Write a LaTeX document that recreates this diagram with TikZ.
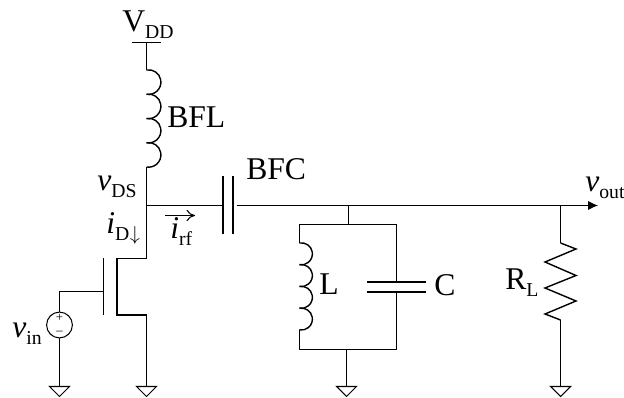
\documentclass[tikz,border=0pt]{standalone}
\usepackage{fontspec}
\setmainfont{Liberation Serif}
\usetikzlibrary{arrows.meta}
\newcommand{\lowtext}[1]{\raisebox{-0.19em}{\fontsize{14}{14}\selectfont #1}}
\tikzset{
	wire/.style={line width=0.75pt},
	plate/.style={line width=1.2pt},
	coil/.style={line width=1pt},
	fet/.style={line width=1.4pt},
	lbl/.style={anchor=base west,inner sep=0pt,font=\fontsize{22.5}{24}\selectfont},
}
\begin{document}
\begin{tikzpicture}[x=0.025cm,y=-0.025cm]
\useasboundingbox (0,0) rectangle (624,398);
% supply and choke
\coordinate (vdd) at (146.5,42.5);
\coordinate (bflt) at (146.5,70);
\coordinate (bflb) at (146.5,167);
\coordinate (dnode) at (146.5,205.5);
\coordinate (dfet) at (146.5,258.5);
\coordinate (sfet) at (146.5,315);
\draw[wire] ([xshift=-10]vdd) -- ([xshift=10]vdd);
\draw[wire] (vdd) -- (bflt);
\draw[wire] (bflb) -- (dfet);
\foreach \n in {0,1,2,3}{
	\draw[coil] (146.5,{70+\n*24.25}) arc[start angle=-100,end angle=100,radius=12.3];}
% transistor
\draw[fet] (dfet) -- (117,258.5) -- (117,315) -- (sfet);
\draw[plate] (103.5,258) -- (103.5,315);
\coordinate (gate) at (103.5,291.5);
\node[draw,circle,wire,minimum size=0.645cm,inner sep=0pt] (vsrc) at (59.5,325) {};
\node[inner sep=0pt,font=\fontsize{9}{9}\selectfont] (vplus) at (59.5,317.5) {+};
\node[inner sep=0pt,font=\fontsize{9}{9}\selectfont] (vminus) at (59.5,333) {--};
\draw[wire] (gate) -| (vsrc.north);
% grounds
\foreach \g/\x in {gndin/59.5,gndfet/146.5,gndtank/346.5,gndload/560.5}{
	\coordinate (\g) at (\x,386.5);
	\draw[wire] (\g) ++(-10,0) -- ++(20,0) -- ++(-10,10) -- cycle;}
\draw[wire] (vsrc.south) -- (gndin);
\draw[wire] (sfet) -- (gndfet);
% output line
\coordinate (cin) at (223,205.5);
\coordinate (cout) at (236.5,205.5);
\coordinate (vo) at (598,205.5);
\draw[wire] (dnode) -- (cin);
\draw[wire,-{Latex[length=7pt,width=6.5pt]}] (cout) -- (vo);
\draw[plate] (223,176) -- (223,234);
\draw[plate] (232.7,176) -- (232.7,234);
% tank
\coordinate (tanktop) at (348.5,205.5);
\coordinate (tankjoin) at (348.5,224.5);
\coordinate (lt) at (299.5,243);
\coordinate (lb) at (299.5,330);
\coordinate (tl) at (299.5,224.5);
\coordinate (tr) at (396.5,224.5);
\coordinate (bl) at (299.5,349.5);
\coordinate (br) at (396.5,349.5);
\coordinate (cp1) at (396.5,282);
\coordinate (cp2) at (396.5,292);
\coordinate (bj) at (346.5,349.5);
\draw[wire] (tanktop) -- (tankjoin);
\draw[wire] (lt) -- (tl) -- (tr) -- (cp1);
\draw[wire] (lb) -- (bl) -- (br) -- (cp2);
\draw[wire] (bj) -- (gndtank);
\foreach \n in {0,1,2,3}{
	\draw[coil] (299.5,{243+\n*21.75}) arc[start angle=-100,end angle=100,radius=11];}
\draw[plate] (367,282) -- (426,282);
\draw[plate] (367,292) -- (426,292);
% load
\coordinate (rt) at (560.5,205.5);
\coordinate (rzt) at (560.5,243);
\coordinate (rzb) at (560.5,320);
\draw[wire] (rt) -- (rzt);
\draw[coil] (rzt) -- (576,249) -- (545,262) -- (576,275.5) -- (545,288) -- (576,301) -- (545,314) -- (rzb);
\draw[wire] (rzb) -- (gndload);
% current arrow
\coordinate (irfa) at (165,215.5);
\coordinate (irfb) at (195,215.5);
\draw[wire,-{To[length=6pt,width=8pt]}] (irfa) -- (irfb);
% labels
\node[lbl] (lvdd) at (122,32) {V\lowtext{DD}};
\node[lbl] (lbfl) at (167,128) {BFL};
\node[lbl] (lbfc) at (246,180) {BFC};
\node[lbl] (lvds) at (97,191) {\textit{v}\lowtext{DS}};
\node[lbl] (lid) at (106,234) {\textit{i}\lowtext{D\hspace{0.5pt}$\downarrow$}};
\node[lbl] (lirf) at (170,239) {\textit{i}\lowtext{rf}};
\node[lbl] (lvout) at (585,192) {\textit{v}\lowtext{out}};
\node[lbl] (lvin) at (12,338) {\textit{v}\lowtext{in}};
\node[lbl] (ll) at (319,295) {L};
\node[lbl] (lc) at (434,296) {C};
\node[lbl] (lrl) at (505,290) {R\lowtext{L}};
\end{tikzpicture}
\end{document}
